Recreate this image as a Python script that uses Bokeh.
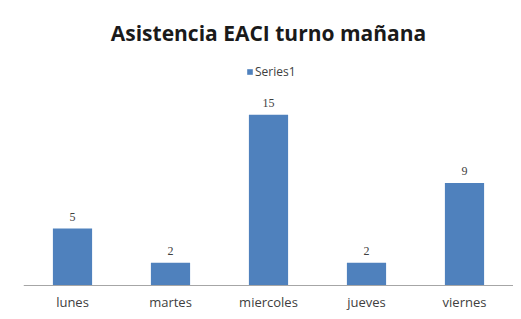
from bokeh.plotting import figure
from bokeh.models import ColumnDataSource, LabelSet, Label, Legend, LegendItem, Range1d, FactorRange
from bokeh.embed import file_html
from bokeh.resources import INLINE

days = ["lunes", "martes", "miercoles", "jueves", "viernes"]
asistencia = [5, 2, 15, 2, 9]
series_name = "Series1"
title_text = "Asistencia EACI turno mañana"

src = ColumnDataSource(dict(day=days, val=asistencia, lbl=[str(v) for v in asistencia]))

p = figure(width=513, height=311, x_range=FactorRange(*days), y_range=Range1d(-2.286, 25.05),
           output_backend="svg", toolbar_location=None,
           min_border_left=23, min_border_right=0, min_border_top=0, min_border_bottom=0)
p.outline_line_color = None
p.background_fill_color = "white"
p.border_fill_color = "white"
p.xgrid.grid_line_color = None
p.ygrid.grid_line_color = None
p.yaxis.visible = False

r = p.vbar(x="day", top="val", bottom=0, width=0.4, source=src, fill_color="#4F81BD", line_color=None)

p.xaxis.fixed_location = 0
p.xaxis.axis_line_color = "#A6A6A6"
p.xaxis.major_tick_line_color = None
p.xaxis.minor_tick_line_color = None
p.xaxis.major_tick_out = 0
p.xaxis.major_tick_in = 0
p.xaxis.minor_tick_out = 0
p.xaxis.major_label_standoff = 8
p.xaxis.major_label_text_font = "Open Sans"
p.xaxis.major_label_text_font_size = "13px"
p.xaxis.major_label_text_color = "#404040"
p.x_range.range_padding = 0

labels = LabelSet(x="day", y="val", text="lbl", source=src, y_offset=8,
                  text_align="center", text_baseline="bottom",
                  text_font="Open Sans", text_font_size="12px", text_color="#404040")
p.add_layout(labels)

title = Label(x=2.5, y=22.15, text=title_text, text_align="center", text_baseline="middle",
              text_font="Open Sans", text_font_style="bold", text_font_size="21px",
              text_color="#1a1a1a")
p.add_layout(title)

legend = Legend(items=[LegendItem(label=series_name, renderers=[r])],
                location=(223, 231), orientation="horizontal",
                glyph_width=7, glyph_height=7, label_height=10, label_standoff=2,
                padding=0, margin=0, spacing=0,
                label_text_font="Open Sans", label_text_font_size="12px",
                label_text_color="#404040", border_line_color=None,
                background_fill_alpha=0)
p.add_layout(legend)

open("out.html", "w").write(file_html(p, INLINE))
